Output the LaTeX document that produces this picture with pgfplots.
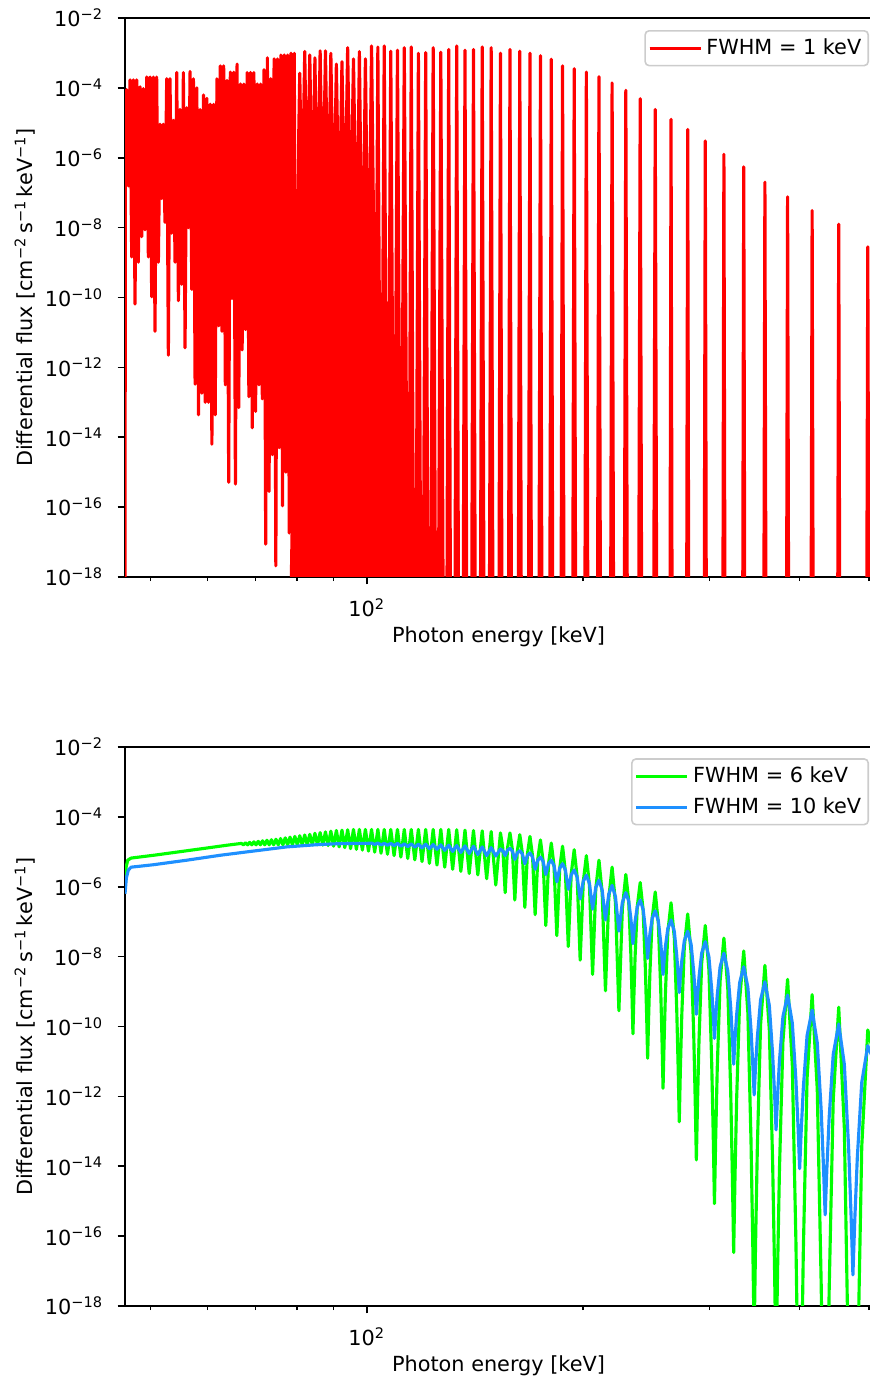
\documentclass[border=0pt]{standalone}
\usepackage{fontspec}
\setmainfont{DejaVu Sans}
\usepackage{pgfplots}
\pgfplotsset{compat=1.18}
\definecolor{mplred}{RGB}{255,0,0}
\definecolor{mplgreen}{RGB}{0,255,0}
\definecolor{mplblue}{RGB}{30,144,255}
\newcommand{\fsz}{\fontsize{10.4}{12.5}\selectfont}
\pgfplotsset{legend image code/.code={\draw[#1] (0pt,0pt) -- (22pt,0pt); \path (0pt,0pt) -- (25.5pt,0pt);}}
\begin{document}
\begin{tikzpicture}
% ---------------- top panel ----------------
\begin{axis}[at={(0pt,364.5pt)}, anchor=south west,
    scale only axis, width=373.5pt, height=279.5pt,
    xmode=log, xmin=46.1, xmax=505,
    ymin=-18, ymax=-2,
    xtick={100}, xticklabels={10\textsuperscript{2}},
    minor xtick={50,60,70,80,90,200,300,400,500},
    ytick={-18,-16,-14,-12,-10,-8,-6,-4,-2},
    yticklabels={10\textsuperscript{−18},10\textsuperscript{−16},10\textsuperscript{−14},10\textsuperscript{−12},10\textsuperscript{−10},10\textsuperscript{−8},10\textsuperscript{−6},10\textsuperscript{−4},10\textsuperscript{−2}},
    tick align=outside, tick pos=left,
    major tick length=3.7pt, minor tick length=2.1pt,
    every major tick/.append style={black, line width=0.84pt},
    every minor tick/.append style={black, line width=0.63pt},
    axis line style={line width=0.84pt},
    tick label style={font=\fsz},
    yticklabel style={xshift=-3.7pt},
    xticklabel style={yshift=-3.7pt},
    label style={font=\fsz},
    xlabel={Photon energy [keV]},
    ylabel={Differential flux [cm\textsuperscript{−2}\,s\textsuperscript{−1}\,keV\textsuperscript{−1}]},
    xlabel style={at={(axis description cs:0.5,-0.1073)}, anchor=center},
    ylabel style={at={(axis description cs:-0.1339,0.5)}, anchor=center},
    legend cell align=left,
    legend style={at={(rel axis cs:0.996,0.9785)}, anchor=north east,
      draw=black!20, line width=0.8pt, rounded corners=2pt, fill=white,
      fill opacity=0.8, text opacity=1, font=\fsz,
      inner xsep=1.5pt, inner ysep=2pt, row sep=2pt}]
\addplot[mplred, line width=1.57pt, line join=round] coordinates {
(46.10,-20) (46.15,-5.04) (46.35,-4.05) (46.60,-6.81) (46.85,-3.77) (47.10,-8.84)
(47.35,-3.77) (47.60,-10.19) (47.86,-3.77) (48.11,-8.99) (48.37,-3.97) (48.63,-8.26)
(48.89,-4.02) (49.15,-8.06) (49.42,-3.69) (49.68,-8.84) (49.95,-3.69) (50.21,-9.98)
(50.48,-3.69) (50.75,-10.97) (51.02,-3.69) (51.30,-8.99) (51.57,-5.04) (51.85,-7.17)
(52.12,-5.04) (52.40,-7.85) (52.69,-3.74) (52.97,-11.65) (53.25,-3.74) (53.54,-8.16)
(53.83,-4.93) (54.12,-8.99) (54.41,-3.56) (54.70,-10.09) (54.99,-4.62) (55.29,-9.62)
(55.58,-3.56) (55.88,-11.44) (56.18,-4.57) (56.49,-8.0) (56.79,-3.53) (57.10,-9.77)
(57.40,-3.74) (57.71,-12.48) (58.03,-4.0) (58.34,-13.36) (58.65,-4.62) (58.97,-12.74)
(59.29,-4.2) (59.61,-13.0) (59.93,-4.3) (60.25,-13.0) (60.58,-4.47) (60.90,-14.2)
(61.23,-4.47) (61.56,-13.36) (61.89,-3.74) (62.23,-10.81) (62.56,-3.37) (62.90,-10.97)
(63.24,-3.37) (63.58,-12.5) (63.92,-3.79) (64.27,-15.29) (64.61,-3.55) (64.96,-10.03)
(65.31,-3.55) (65.67,-15.34) (66.02,-3.32) (66.38,-13.15) (66.74,-3.89) (67.10,-11.5)
(67.46,-3.89) (67.83,-10.92) (68.19,-3.56) (68.56,-12.84) (68.93,-3.56) (69.31,-13.73)
(69.68,-3.56) (70.06,-13.26) (70.44,-3.89) (70.82,-12.5) (71.20,-3.89) (71.59,-12.9)
(71.98,-3.48) (72.36,-17.06) (72.76,-3.14) (73.15,-15.55) (73.55,-3.74) (73.94,-14.5)
(74.34,-3.17) (74.75,-17.68) (75.15,-3.17) (75.56,-14.3) (75.97,-3.06) (76.38,-15.96)
(76.79,-3.06) (77.21,-15.0) (77.63,-3.06) (78.05,-16.74) (78.47,-3.01) (78.90,-15.65)
(79.32,-3.01) (79.60,-20)
};
\addlegendentry{FWHM = 1 keV}
\addplot[mplred, fill=mplred, line width=1.57pt, line join=round, forget plot] coordinates {
(78.28,-20) (80.70,-3.58) (83.12,-20)
(79.54,-20) (82.00,-2.96) (84.46,-20)
(80.84,-20) (83.34,-3.06) (85.84,-20)
(82.18,-20) (84.72,-3.14) (87.26,-20)
(83.57,-20) (86.15,-2.94) (88.73,-20)
(85.00,-20) (87.63,-2.94) (90.26,-20)
(86.49,-20) (89.16,-3.01) (91.83,-20)
(88.03,-20) (90.75,-3.32) (93.47,-20)
(89.62,-20) (92.39,-3.25) (95.16,-20)
(91.27,-20) (94.09,-2.85) (96.91,-20)
(92.98,-20) (95.86,-3.17) (98.74,-20)
(95.54,-20) (97.69,-2.96) (99.84,-20)
(97.41,-20) (99.60,-3.17) (101.79,-20)
(99.35,-20) (101.58,-2.80) (103.81,-20)
(102.51,-20) (103.65,-2.83) (104.79,-20)
(104.63,-20) (105.79,-2.80) (106.95,-20)
(106.84,-20) (108.03,-2.95) (109.22,-20)
(109.16,-20) (110.37,-2.92) (111.58,-20)
(111.57,-20) (112.81,-2.85) (114.05,-20)
(114.44,-20) (115.36,-2.83) (116.28,-20)
(117.09,-20) (118.03,-3.01) (118.97,-20)
(119.85,-20) (120.82,-2.99) (121.79,-20)
(122.76,-20) (123.75,-2.85) (124.74,-20)
(125.81,-20) (126.82,-2.98) (127.83,-20)
(129.28,-20) (130.06,-2.90) (130.84,-20)
(132.66,-20) (133.46,-2.80) (134.26,-20)
(136.22,-20) (137.04,-2.92) (137.86,-20)
(139.98,-20) (140.82,-2.90) (141.66,-20)
(143.94,-20) (144.81,-2.83) (145.68,-20)
(148.15,-20) (149.04,-2.85) (149.93,-20)
(152.76,-20) (153.53,-3.01) (154.30,-20)
(157.50,-20) (158.29,-2.90) (159.08,-20)
(162.53,-20) (163.35,-2.95) (164.17,-20)
(167.92,-20) (168.76,-3.01) (169.60,-20)
(173.66,-20) (174.53,-3.08) (175.40,-20)
(179.80,-20) (180.70,-3.18) (181.60,-20)
(186.40,-20) (187.34,-3.37) (188.28,-20)
(193.51,-20) (194.48,-3.45) (195.45,-20)
(201.17,-20) (202.18,-3.55) (203.19,-20)
(209.47,-20) (210.52,-3.68) (211.57,-20)
(218.47,-20) (219.57,-3.86) (220.67,-20)
(228.29,-20) (229.44,-4.07) (230.59,-20)
(239.05,-20) (240.25,-4.31) (241.45,-20)
(250.85,-20) (252.11,-4.62) (253.37,-20)
(264.28,-20) (265.21,-4.90) (266.14,-20)
(278.77,-20) (279.75,-5.19) (280.73,-20)
(294.93,-20) (295.97,-5.52) (297.01,-20)
(313.09,-20) (314.19,-5.90) (315.29,-20)
(333.63,-20) (334.80,-6.26) (335.97,-20)
(357.05,-20) (358.30,-6.70) (359.55,-20)
(384.00,-20) (385.35,-7.12) (386.70,-20)
(415.36,-20) (416.82,-7.51) (418.28,-20)
(452.30,-20) (453.89,-7.90) (455.48,-20)
(496.45,-20) (498.19,-8.55) (499.93,-20)
};
\end{axis}
% ---------------- bottom panel ----------------
\begin{axis}[at={(0pt,0pt)}, anchor=south west,
    scale only axis, width=373.5pt, height=279.5pt,
    xmode=log, xmin=46.1, xmax=505,
    ymin=-18, ymax=-2,
    xtick={100}, xticklabels={10\textsuperscript{2}},
    minor xtick={50,60,70,80,90,200,300,400,500},
    ytick={-18,-16,-14,-12,-10,-8,-6,-4,-2},
    yticklabels={10\textsuperscript{−18},10\textsuperscript{−16},10\textsuperscript{−14},10\textsuperscript{−12},10\textsuperscript{−10},10\textsuperscript{−8},10\textsuperscript{−6},10\textsuperscript{−4},10\textsuperscript{−2}},
    tick align=outside, tick pos=left,
    major tick length=3.7pt, minor tick length=2.1pt,
    every major tick/.append style={black, line width=0.84pt},
    every minor tick/.append style={black, line width=0.63pt},
    axis line style={line width=0.84pt},
    tick label style={font=\fsz},
    yticklabel style={xshift=-3.7pt},
    xticklabel style={yshift=-3.7pt},
    label style={font=\fsz},
    xlabel={Photon energy [keV]},
    ylabel={Differential flux [cm\textsuperscript{−2}\,s\textsuperscript{−1}\,keV\textsuperscript{−1}]},
    xlabel style={at={(axis description cs:0.5,-0.1073)}, anchor=center},
    ylabel style={at={(axis description cs:-0.1339,0.5)}, anchor=center},
    legend cell align=left,
    legend style={at={(rel axis cs:0.996,0.980)}, anchor=north east,
      draw=black!20, line width=0.8pt, rounded corners=2pt, fill=white,
      fill opacity=0.8, text opacity=1, font=\fsz,
      inner xsep=1.5pt, inner ysep=2pt, row sep=2pt}]
\addplot[mplgreen, line width=1.57pt, line join=round] coordinates {
(46.10,-6.15) (46.25,-5.45) (46.5,-5.24) (47.0,-5.18) (50.5,-5.10) (56.2,-4.97)
(60.0,-4.89) (64.0,-4.81)
(66.94,-4.76) (67.38,-4.80) (67.83,-4.745) (68.29,-4.80) (68.75,-4.73) (69.21,-4.80)
(69.68,-4.715) (70.16,-4.80) (70.65,-4.70) (71.14,-4.80) (71.64,-4.685) (72.15,-4.80)
(72.66,-4.67) (73.18,-4.80) (73.71,-4.655) (74.25,-4.80) (74.79,-4.64) (75.34,-4.80)
(75.90,-4.62) (76.47,-4.80) (77.05,-4.60) (77.64,-4.80) (78.23,-4.58) (78.83,-4.80)
(79.45,-4.56) (80.07,-4.80) (80.70,-4.54) (81.34,-4.80) (82.00,-4.52) (82.66,-4.80)
(83.34,-4.50) (84.02,-4.80) (84.72,-4.47) (85.43,-4.80) (86.15,-4.45) (86.88,-4.81)
(87.63,-4.43) (88.39,-4.82) (89.16,-4.41) (89.95,-4.84) (90.75,-4.39) (91.56,-4.86)
(92.39,-4.38) (93.23,-4.88) (94.09,-4.37) (94.97,-4.91) (95.86,-4.36) (96.77,-4.93)
(97.69,-4.36) (98.64,-4.95) (99.60,-4.36) (100.58,-4.98)
(101.58,-4.36) (102.60,-5.01) (103.65,-4.36) (104.71,-5.04) (105.79,-4.36) (106.90,-5.07)
(108.03,-4.36) (109.19,-5.11) (110.37,-4.36) (111.58,-5.15) (112.81,-4.36) (114.07,-5.19)
(115.36,-4.36) (116.68,-5.23) (118.03,-4.36) (119.41,-5.28) (120.82,-4.36) (122.27,-5.33)
(123.75,-4.36) (125.27,-5.38) (126.82,-4.36) (128.42,-5.44) (130.06,-4.36) (131.73,-5.50)
(133.46,-4.37) (135.22,-5.56) (137.04,-4.38) (138.90,-5.62) (140.82,-4.39) (142.79,-5.66)
(144.81,-4.40) (146.90,-5.77) (149.04,-4.42) (151.25,-5.95)
(153.53,-4.46) (154.69,-4.89) (155.87,-6.17) (157.07,-4.89) (158.29,-4.46) (159.52,-4.94)
(160.78,-6.38) (162.06,-4.98) (163.35,-4.51) (164.67,-5.03) (166.01,-6.59) (167.37,-5.07)
(168.76,-4.56) (170.16,-5.12) (171.59,-6.80) (173.05,-5.20) (174.53,-4.66) (176.03,-5.27)
(177.56,-7.11) (179.12,-5.34) (180.70,-4.75) (182.32,-5.41) (183.96,-7.40) (185.63,-5.48)
(187.34,-4.84) (189.07,-5.56) (190.84,-7.71) (192.64,-5.63) (194.48,-4.94) (196.35,-5.73)
(198.25,-8.10) (200.20,-5.86) (202.18,-5.11) (204.20,-5.96) (206.26,-8.51) (208.37,-6.06)
(210.52,-5.24) (212.71,-6.18) (214.95,-8.98) (217.24,-6.33) (219.57,-5.44) (221.96,-6.47)
(224.40,-9.55) (226.89,-6.63) (229.44,-5.65)
(231.52,-6.38) (233.12,-7.88) (234.02,-9.10) (234.72,-10.21) (235.42,-9.16) (236.35,-8.00) (238.00,-6.57) (240.25,-5.88)
(242.53,-6.68) (244.27,-8.34) (245.27,-9.69) (246.04,-10.91) (246.81,-9.75) (247.83,-8.48) (249.65,-6.91) (252.11,-6.15)
(254.63,-7.05) (256.55,-8.90) (257.65,-10.40) (258.50,-11.77) (259.35,-10.48) (260.47,-9.06) (262.48,-7.31) (265.21,-6.46)
(268.00,-7.46) (270.12,-9.53) (271.35,-11.21) (272.29,-12.73) (273.23,-11.28) (274.48,-9.70) (276.71,-7.73) (279.75,-6.78)
(282.85,-7.91) (285.22,-10.23) (286.58,-12.11) (287.63,-13.82) (288.69,-12.19) (290.08,-10.40) (292.58,-8.18) (295.97,-7.11)
(299.44,-8.38) (302.10,-11.01) (303.63,-13.14) (304.81,-15.07) (306.00,-13.22) (307.56,-11.19) (310.37,-8.69) (314.19,-7.47)
(318.11,-8.91) (321.11,-11.88) (322.83,-14.28) (324.17,-16.47) (325.51,-14.37) (327.28,-12.07) (330.46,-9.22) (334.80,-7.84)
(339.25,-9.61) (342.67,-13.26) (344.63,-16.21) (346.15,-18.9) (347.68,-16.31) (349.71,-13.47) (353.34,-9.95) (358.30,-8.25)
(363.40,-10.10) (367.33,-13.91) (369.59,-16.99) (371.34,-19.8) (373.10,-17.09) (375.43,-14.11) (379.62,-10.43) (385.35,-8.65)
(391.26,-11.11) (395.81,-16.17) (398.44,-20.27) (400.47,-24) (402.52,-20.38) (405.24,-16.40) (410.12,-11.48) (416.82,-9.09)
(423.74,-11.80) (429.09,-17.38) (432.18,-21.89) (434.57,-26) (436.99,-21.98) (440.19,-17.56) (445.96,-12.10) (453.89,-9.45)
(462.11,-12.90) (468.47,-20.01) (472.16,-25.76) (475.01,-31) (477.90,-25.92) (481.74,-20.34) (488.65,-13.44) (498.19,-10.1)
(505,-10.6)
};
\addlegendentry{FWHM = 6 keV}
\addplot[mplblue, line width=1.57pt, line join=round] coordinates {
(46.10,-6.2) (46.3,-5.75) (46.6,-5.52) (47.0,-5.44) (50.5,-5.37) (56.2,-5.24)
(62.5,-5.10) (69.5,-4.98) (77.4,-4.86) (86.1,-4.79) (90.8,-4.77) (95.8,-4.76) (100.0,-4.76)
(101.58,-4.75) (102.60,-4.79) (103.65,-4.75) (104.71,-4.80) (105.79,-4.76) (106.90,-4.81)
(108.03,-4.76) (109.19,-4.82) (110.37,-4.76) (111.58,-4.84) (112.81,-4.77) (114.07,-4.85)
(115.36,-4.77) (116.68,-4.87) (118.03,-4.78) (119.41,-4.89) (120.82,-4.78) (122.27,-4.91)
(123.75,-4.79) (125.27,-4.93) (126.82,-4.80) (128.42,-4.96) (130.06,-4.81) (131.73,-4.99)
(133.46,-4.82) (135.22,-5.02) (137.04,-4.83) (138.90,-5.05) (140.82,-4.84) (142.79,-5.08)
(144.81,-4.86) (146.90,-5.11) (149.04,-4.88) (151.25,-5.12)
(153.53,-4.92) (154.69,-4.97) (155.87,-5.11) (157.07,-4.95) (158.29,-4.90) (159.52,-4.98)
(160.78,-5.22) (162.06,-5.03) (163.35,-4.97) (164.67,-5.06) (166.01,-5.34) (167.37,-5.11)
(168.76,-5.03) (170.16,-5.15) (171.59,-5.50) (173.05,-5.24) (174.53,-5.15) (176.03,-5.28)
(177.56,-5.65) (179.12,-5.34) (180.70,-5.24) (182.32,-5.40) (183.96,-5.86) (185.63,-5.47)
(187.34,-5.34) (189.07,-5.52) (190.84,-6.07) (192.64,-5.66) (194.48,-5.52) (196.35,-5.73)
(198.25,-6.35) (200.20,-5.84) (202.18,-5.67) (204.20,-5.91) (206.26,-6.64) (208.37,-6.02)
(210.52,-5.81) (212.71,-6.10) (214.95,-6.95) (217.24,-6.21) (219.57,-5.96) (221.96,-6.29)
(224.40,-7.27) (226.89,-6.45) (229.44,-6.17)
(231.52,-6.40) (233.12,-6.89) (234.02,-7.28) (234.72,-7.63) (235.42,-7.33) (236.35,-6.99) (238.00,-6.58) (240.25,-6.38)
(242.53,-6.65) (244.27,-7.20) (245.27,-7.64) (246.04,-8.05) (246.81,-7.72) (247.83,-7.36) (249.65,-6.91) (252.11,-6.69)
(254.63,-6.98) (256.55,-7.58) (257.65,-8.07) (258.50,-8.51) (259.35,-8.13) (260.47,-7.71) (262.48,-7.20) (265.21,-6.95)
(268.00,-7.28) (270.12,-7.97) (271.35,-8.52) (272.29,-9.03) (273.23,-8.60) (274.48,-8.13) (276.71,-7.55) (279.75,-7.27)
(282.85,-7.65) (285.22,-8.44) (286.58,-9.07) (287.63,-9.65) (288.69,-9.14) (290.08,-8.59) (292.58,-7.90) (295.97,-7.57)
(299.44,-8.01) (302.10,-8.93) (303.63,-9.67) (304.81,-10.34) (306.00,-9.75) (307.56,-9.10) (310.37,-8.29) (314.19,-7.90)
(318.11,-8.41) (321.11,-9.46) (322.83,-10.31) (324.17,-11.08) (325.51,-10.40) (327.28,-9.66) (330.46,-8.74) (334.80,-8.29)
(339.25,-8.88) (342.67,-10.09) (344.63,-11.07) (346.15,-11.96) (347.68,-11.17) (349.71,-10.31) (353.34,-9.24) (358.30,-8.72)
(363.40,-9.40) (367.33,-10.80) (369.59,-11.93) (371.34,-12.96) (373.10,-12.02) (375.43,-10.99) (379.62,-9.72) (385.35,-9.10)
(391.26,-9.90) (395.81,-11.54) (398.44,-12.86) (400.47,-14.07) (402.52,-12.97) (405.24,-11.75) (410.12,-10.26) (416.82,-9.53)
(423.74,-10.47) (429.09,-12.40) (432.18,-13.97) (434.57,-15.39) (436.99,-14.06) (440.19,-12.61) (445.96,-10.80) (453.89,-9.93)
(462.11,-11.08) (468.47,-13.45) (472.16,-15.37) (475.01,-17.11) (477.90,-15.52) (481.74,-13.76) (488.65,-11.60) (498.19,-10.55)
(505,-10.85)
};
\addlegendentry{FWHM = 10 keV}
\end{axis}
\pgfresetboundingbox
\useasboundingbox (-62.5pt,-37.5pt) rectangle (372pt,653pt);
\end{tikzpicture}
\end{document}
